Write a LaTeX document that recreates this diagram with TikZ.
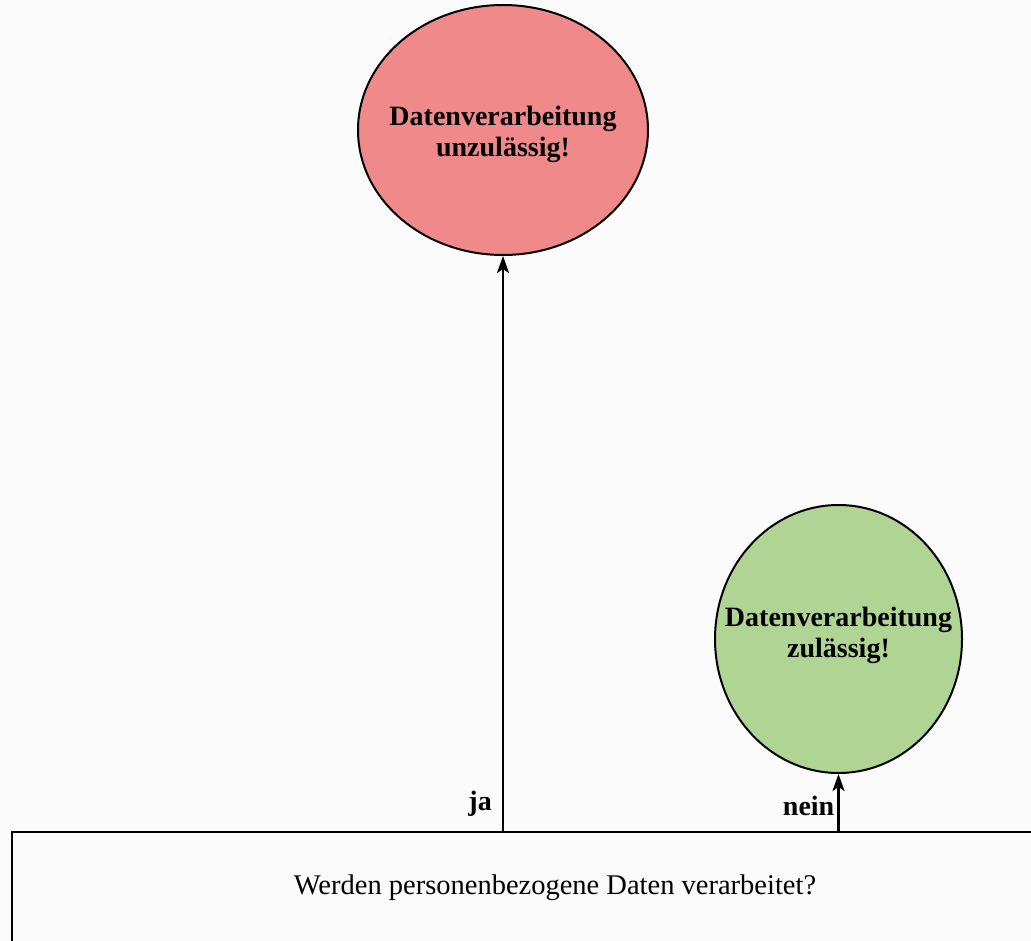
\documentclass[tikz,border=0pt]{standalone}
\usepackage{fontspec}
\setmainfont{Liberation Serif}
\usetikzlibrary{positioning, arrows.meta, shapes.geometric}
\definecolor{rosso}{RGB}{240, 138, 138}
\definecolor{verde}{RGB}{176, 212, 148}
\definecolor{hinter}{RGB}{251, 251, 251}

\begin{document}
\begin{tikzpicture}[x=1pt, y=-1pt]
    \fill[hinter] (0,0) rectangle (1031,941);
    \useasboundingbox (0,0) rectangle (1031,941);
    \clip (0,0) rectangle (1031,941);
    \node[draw, line width=2.2pt, fill=hinter, minimum width=1086pt, minimum height=112pt, font=\fontsize{28.5}{32}\selectfont] (frage) at (555,888) {Werden personenbezogene Daten verarbeitet?};
    \node[ellipse, draw, line width=2pt, fill=rosso, minimum width=290pt, minimum height=250pt, label={[align=center, font=\bfseries\fontsize{28}{31}\selectfont, yshift=-4pt]center:{Datenverarbeitung\\unzulässig!}}] (unzul) at (503,130) {};
    \node[ellipse, draw, line width=2pt, fill=verde, minimum width=247pt, minimum height=268pt, label={[align=center, font=\bfseries\fontsize{28}{31}\selectfont, yshift=4pt]center:{Datenverarbeitung\\zulässig!}}] (zul) at (838.5,639) {};
    \draw[-{Stealth[length=17pt, width=12pt, inset=4pt]}, line width=2.4pt] (frage.north -| unzul.south) -- (unzul.south) node[pos=0.047, left, inner sep=10pt, font=\bfseries\fontsize{28}{30}\selectfont] {ja};
    \draw[-{Stealth[length=17pt, width=12pt, inset=4pt]}, line width=2.4pt] (frage.north -| zul.south) -- (zul.south) node[pos=0.44, left, inner sep=3pt, font=\bfseries\fontsize{28}{30}\selectfont] {nein};
\end{tikzpicture}
\end{document}
